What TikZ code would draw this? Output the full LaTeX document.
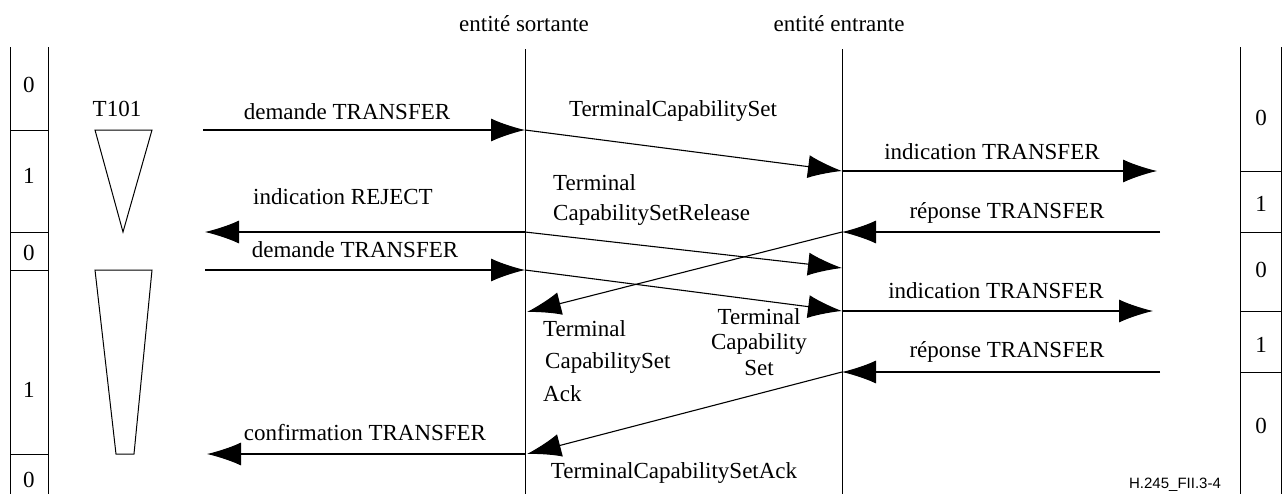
\documentclass[tikz,border=0pt]{standalone}
\usepackage{fontspec}
\setmainfont{Liberation Serif}
\newfontfamily\footfont{Liberation Sans}
\usetikzlibrary{arrows.meta}
\tikzset{
  lbl/.style={font=\fontsize{23}{25}\selectfont, inner sep=0pt, anchor=base},
  lblw/.style={lbl, anchor=base west},
  msg/.style={line width=1.1pt, -{Latex[length=34pt,width=23pt]}},
  thin/.style={line width=1pt},
}
\begin{document}
\begin{tikzpicture}[x=1pt,y=-1pt]
\useasboundingbox (0,0) rectangle (1288,501);
% headers
\node[lbl] (hs) at (524,31) {entité sortante};
\node[lbl] (he) at (839,31) {entité entrante};
% lifelines
\coordinate (At) at (525,49); \coordinate (Ab) at (525,494);
\coordinate (Bt) at (842,49); \coordinate (Bb) at (842,494);
\draw[thin] (At) -- (Ab);
\draw[thin] (Bt) -- (Bb);
% left state bar
\draw[thin] (10,47) -- (10,494) (48,47) -- (48,494);
\foreach \y in {130,232,270,454} \draw[thin] (10,\y) -- (48,\y);
\node[lbl] (l0) at (29,92) {0};
\node[lbl] (l1) at (29,183) {1};
\node[lbl] (l2) at (29,260) {0};
\node[lbl] (l3) at (29,397) {1};
\node[lbl] (l4) at (29,487) {0};
% right state bar
\draw[thin] (1240,47) -- (1240,494) (1281,47) -- (1281,494);
\foreach \y in {171,232,311,372} \draw[thin] (1240,\y) -- (1281,\y);
\node[lbl] (r0) at (1261,125) {0};
\node[lbl] (r1) at (1261,211) {1};
\node[lbl] (r2) at (1261,277) {0};
\node[lbl] (r3) at (1261,352) {1};
\node[lbl] (r4) at (1261,433) {0};
% timer
\node[lbl] (t101) at (117,116) {T101};
\draw[thin] (95,130) -- (152,130) -- (123,232) -- cycle;
\draw[thin] (95,270) -- (152,270) -- (134,454) -- (116,454) -- cycle;
% coordinates
\coordinate (u1) at (203,130);
\coordinate (a1) at (525,130);
\coordinate (b1) at (842,171);
\coordinate (v1) at (1157,171);
\coordinate (w1) at (1160,232);
\coordinate (b2) at (842,232);
\coordinate (a2) at (525,232);
\coordinate (u2) at (205,232);
\coordinate (b3) at (842,268);
\coordinate (u3) at (205,270);
\coordinate (a3) at (525,270);
\coordinate (b4) at (842,311);
\coordinate (a4) at (527,312);
\coordinate (v4) at (1153,311);
\coordinate (w5) at (1160,372);
\coordinate (b5) at (842,372);
\coordinate (a5) at (527,454);
\coordinate (a6) at (525,454);
\coordinate (u6) at (207,454);
% messages
\draw[msg] (u1) -- (a1);
\draw[msg] (a1) -- (b1);
\draw[msg] (b1) -- (v1);
\draw[msg] (w1) -- (b2);
\draw[msg] (a2) -- (u2);
\draw[msg] (a2) -- (b3);
\draw[msg] (u3) -- (a3);
\draw[msg] (a3) -- (b4);
\draw[msg] (b2) -- (a4);
\draw[msg] (b4) -- (v4);
\draw[msg] (w5) -- (b5);
\draw[msg] (b5) -- (a5);
\draw[msg] (a6) -- (u6);
% labels
\node[lbl] (m1) at (347,119) {demande TRANSFER};
\node[lbl] (m2) at (673,116) {TerminalCapabilitySet};
\node[lbl] (m3) at (992,159) {indication TRANSFER};
\node[lbl] (m4) at (1007,218) {réponse TRANSFER};
\node[lbl] (m5) at (343,204) {indication REJECT};
\node[lblw] (m6a) at (553,190) {Terminal};
\node[lblw] (m6b) at (553,220) {CapabilitySetRelease};
\node[lbl] (m7) at (355,257) {demande TRANSFER};
\node[lbl] (m8a) at (759,324) {Terminal};
\node[lbl] (m8b) at (759,349) {Capability};
\node[lbl] (m8c) at (759,375) {Set};
\node[lblw] (m9a) at (543,336) {Terminal};
\node[lblw] (m9b) at (545,368) {CapabilitySet};
\node[lblw] (m9c) at (543,401) {Ack};
\node[lbl] (m10) at (996,298) {indication TRANSFER};
\node[lbl] (m11) at (1007,357) {réponse TRANSFER};
\node[lbl] (m12) at (674,478) {TerminalCapabilitySetAck};
\node[lbl] (m13) at (365,440) {confirmation TRANSFER};
% figure id
\node[inner sep=0pt, anchor=base, font=\footfont\fontsize{15}{17}\selectfont] (fig) at (1175,488) {H.245\_FII.3-4};
\end{tikzpicture}
\end{document}
